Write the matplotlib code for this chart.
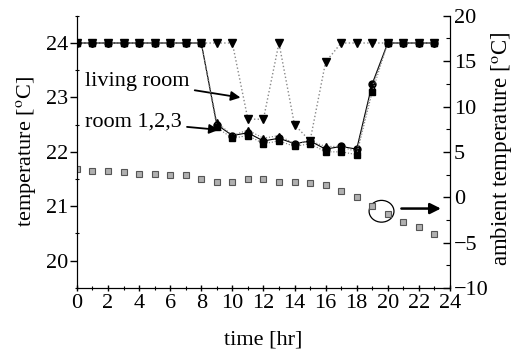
import matplotlib
matplotlib.use("Agg")
import matplotlib.pyplot as plt
from matplotlib.patches import Ellipse
from matplotlib.ticker import MultipleLocator

plt.rcParams['font.family'] = ['Liberation Serif', 'DejaVu Serif']
plt.rcParams['mathtext.fontset'] = 'stix'

hours = list(range(24))

# living room (dotted line, down triangles)
living = [24, 24, 24, 24, 24, 24, 24, 24, 24, 24, 24, 22.6, 22.6, 24, 22.5, 22.2,
          23.65, 24, 24, 24, 24, 24, 24, 24]

# rooms 1,2,3
room1 = [24, 24, 24, 24, 24, 24, 24, 24, 24, 22.5, 22.3, 22.35, 22.2, 22.25, 22.15, 22.2,
         22.05, 22.1, 22.05, 23.25, 24, 24, 24, 24]
room2 = [24, 24, 24, 24, 24, 24, 24, 24, 24, 22.55, 22.3, 22.4, 22.25, 22.3, 22.15, 22.2,
         22.1, 22.1, 22.0, 23.2, 24, 24, 24, 24]
room3 = [24, 24, 24, 24, 24, 24, 24, 24, 24, 22.45, 22.25, 22.3, 22.15, 22.2, 22.1, 22.15,
         22.0, 22.0, 21.95, 23.1, 24, 24, 24, 24]

# ambient temperature (right axis)
ambient = [3.1, 2.9, 2.9, 2.8, 2.6, 2.6, 2.5, 2.5, 2.0, 1.7, 1.7, 2.0, 2.0, 1.7, 1.7, 1.6,
           1.3, 0.7, 0.0, -1.0, -1.8, -2.7, -3.3, -4.1]

FS = 16

fig = plt.figure(figsize=(5.13, 3.59), dpi=100)
ax = fig.add_axes([0.150, 0.198, 0.727, 0.758])
ax2 = ax.twinx()

ax2.plot(hours, ambient, ls='none', marker='s', ms=4.5, mfc='#b0b0b0', mec='#555555', mew=0.8)

ax.plot(hours, living, ls=':', color='#888888', lw=1, marker='v', ms=6, mfc='black', mec='black', zorder=3)
ax.plot(hours, room1, ls='-', color='black', lw=0.8, marker='o', ms=5, mfc='black', mec='black', zorder=4)
ax.plot(hours, room2, ls=':', color='#777777', lw=0.8, marker='^', ms=5, mfc='black', mec='black', zorder=4)
ax.plot(hours, room3, ls=':', color='#777777', lw=0.8, marker='s', ms=4.5, mfc='black', mec='black', zorder=4)

ax.set_xlim(0, 24)
ax.set_ylim(19.5, 24.5)
ax2.set_ylim(-10, 20)

ax.xaxis.set_major_locator(MultipleLocator(2))
ax.xaxis.set_minor_locator(MultipleLocator(1))
ax.yaxis.set_major_locator(MultipleLocator(1))
ax.yaxis.set_minor_locator(MultipleLocator(0.5))
ax2.yaxis.set_major_locator(MultipleLocator(5))
ax2.yaxis.set_minor_locator(MultipleLocator(2.5))

for a in (ax, ax2):
    a.spines['top'].set_visible(False)
    a.tick_params(which='major', length=5, width=1, labelsize=FS, pad=1)
    a.tick_params(which='minor', length=3, width=0.8)
ax.tick_params(axis='x', which='both', direction='inout', pad=2)
ax.tick_params(axis='y', which='minor', direction='inout')
ax2.tick_params(axis='y', which='both', direction='in', pad=3)

ax.set_xlabel('time [hr]', fontsize=FS)
ax.set_ylabel('temperature [$^{\\rm o}$C]', fontsize=FS)
ax2.set_ylabel('ambient temperature [$^{\\rm o}$C]', fontsize=16.5)
ax.xaxis.set_label_coords(0.5, -0.155)
ax.yaxis.set_label_coords(-0.105, 0.5)
ax2.yaxis.set_label_coords(1.106, 0.51)

ax.annotate('living room', xy=(10.7, 22.99), xytext=(0.5, 23.3), fontsize=FS,
            va='center', ha='left',
            arrowprops=dict(arrowstyle='-|>', color='black', lw=1.3, mutation_scale=14))
ax.annotate('room 1,2,3', xy=(9.3, 22.4), xytext=(0.5, 22.55), fontsize=FS,
            va='center', ha='left',
            arrowprops=dict(arrowstyle='-|>', color='black', lw=1.3, mutation_scale=14))

ax2.add_patch(Ellipse((19.6, -1.55), 1.6, 2.4, fill=False, ec='black', lw=0.9))
ax2.annotate('', xy=(23.6, -1.25), xytext=(20.7, -1.25),
             arrowprops=dict(arrowstyle='-|>', color='black', lw=1.8, mutation_scale=16))

fig.savefig('out.png', dpi=100)
